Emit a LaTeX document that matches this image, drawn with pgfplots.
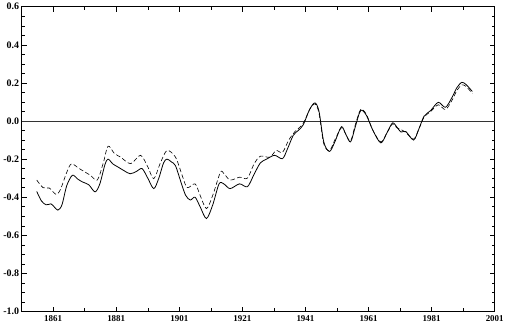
\documentclass[border=0pt]{standalone}
\usepackage{pgfplots}
\pgfplotsset{compat=1.18}
\usepackage{fontspec}
\setmainfont{Liberation Serif}
\begin{document}
\begin{tikzpicture}
\begin{axis}[
  scale only axis,
  width=475pt, height=306pt,
  xmin=1851, xmax=2001,
  ymin=-1.0, ymax=0.6,
  xtick={1861,1881,...,2001},
  minor xtick={1871,1891,...,1991},
  ytick={-1.0,-0.8,...,0.61},
  minor y tick num=3,
  tick align=inside,
  tick pos=both,
  xticklabel pos=lower,
  yticklabel pos=left,
  major tick length=5pt,
  minor tick length=3pt,
  tick style={black, line width=0.5pt},
  axis line style={black, line width=0.6pt},
  /pgf/number format/assume math mode=true,
  xticklabel style={font=\fontsize{9}{10}\selectfont\bfseries, /pgf/number format/1000 sep={}, yshift=-1pt},
  yticklabel style={font=\fontsize{10}{11}\selectfont\bfseries, /pgf/number format/fixed, /pgf/number format/fixed zerofill, /pgf/number format/precision=1, xshift=1pt},
  scaled y ticks=false,
  clip=true,
]
\addplot [black!80, line width=0.6pt] coordinates {(1851,0) (2001,0)};
% solid series
\addplot [black, line width=0.8pt, smooth, tension=0.5] coordinates {
(1855.8,-0.37) (1857.3,-0.42) (1858.8,-0.44) (1860.3,-0.435) (1861.3,-0.45)
(1862.5,-0.468) (1863.8,-0.44) (1865.3,-0.34) (1867.1,-0.285) (1868.8,-0.305)
(1870.3,-0.32) (1872.3,-0.335) (1874.3,-0.372) (1875.8,-0.33) (1877.4,-0.23)
(1878.4,-0.20) (1879.9,-0.225) (1881.4,-0.24) (1883.4,-0.26) (1885.4,-0.277)
(1887.4,-0.265) (1889.2,-0.25) (1891,-0.30) (1892.9,-0.355) (1894.5,-0.30)
(1896,-0.22) (1897.1,-0.20) (1898.5,-0.215) (1899.8,-0.235) (1901.5,-0.32)
(1903,-0.39) (1904.5,-0.415) (1906,-0.40) (1907.6,-0.45) (1909.6,-0.512)
(1911.6,-0.44) (1913.6,-0.33) (1915.1,-0.33) (1917.1,-0.355) (1920.1,-0.33)
(1922.6,-0.345) (1924.7,-0.28) (1926.7,-0.22) (1928.7,-0.20) (1931.2,-0.18)
(1933.7,-0.198) (1935.2,-0.15) (1937.1,-0.076) (1938.7,-0.05) (1940.3,-0.02)
(1942.3,0.06) (1944,0.095) (1945.3,0.05) (1946.8,-0.11) (1948.6,-0.16)
(1950.3,-0.11) (1952.4,-0.03) (1953.8,-0.07) (1955.3,-0.11) (1956.8,-0.03)
(1958.5,0.055) (1960.3,0.03) (1962.4,-0.05) (1964.9,-0.115) (1966.9,-0.06)
(1968.6,-0.01) (1969.9,-0.03) (1971.3,-0.058) (1972.8,-0.055) (1975.3,-0.10)
(1977,-0.04) (1978.6,0.025) (1980.7,0.055) (1983.1,0.098) (1985.4,0.072)
(1987.5,0.125) (1989,0.175) (1990.6,0.203) (1992,0.19) (1993.9,0.155)
};
% dashed series
\addplot [black, line width=0.6pt, dash pattern=on 4.5pt off 2.5pt, smooth, tension=0.5] coordinates {
(1855.8,-0.31) (1857.8,-0.35) (1859.8,-0.352) (1861.9,-0.385) (1863.3,-0.36)
(1865.3,-0.27) (1866.8,-0.225) (1869.3,-0.25) (1872.8,-0.285) (1875,-0.31)
(1876.9,-0.22) (1878.4,-0.132) (1880.4,-0.17) (1882.4,-0.19) (1885.6,-0.224)
(1888.7,-0.18) (1891,-0.24) (1892.9,-0.303) (1895,-0.22) (1897.1,-0.155)
(1899.8,-0.19) (1902,-0.29) (1903.5,-0.35) (1906,-0.33) (1907.6,-0.39)
(1909.6,-0.46) (1911.6,-0.39) (1914,-0.27) (1915.1,-0.275) (1917.1,-0.31)
(1920.1,-0.295) (1922.6,-0.30) (1924.7,-0.225) (1926.7,-0.185) (1929.7,-0.19)
(1931.7,-0.155) (1933.7,-0.165) (1935.7,-0.10) (1937.7,-0.055) (1940.2,-0.015)
(1942.3,0.06) (1944,0.09) (1945.3,0.04) (1946.8,-0.12) (1948.6,-0.155)
(1950.3,-0.10) (1952.4,-0.035) (1953.8,-0.07) (1955.3,-0.105) (1956.8,-0.02)
(1958.5,0.06) (1960.3,0.035) (1962.4,-0.05) (1964.9,-0.11) (1966.9,-0.06)
(1968.6,-0.015) (1969.9,-0.035) (1971.3,-0.045) (1972.8,-0.06) (1975.3,-0.095)
(1977,-0.04) (1978.6,0.02) (1980.7,0.05) (1983.1,0.085) (1985.4,0.06)
(1987.5,0.11) (1989,0.16) (1990.6,0.19) (1992,0.18) (1993.9,0.145)
};
\end{axis}
\end{tikzpicture}
\end{document}
